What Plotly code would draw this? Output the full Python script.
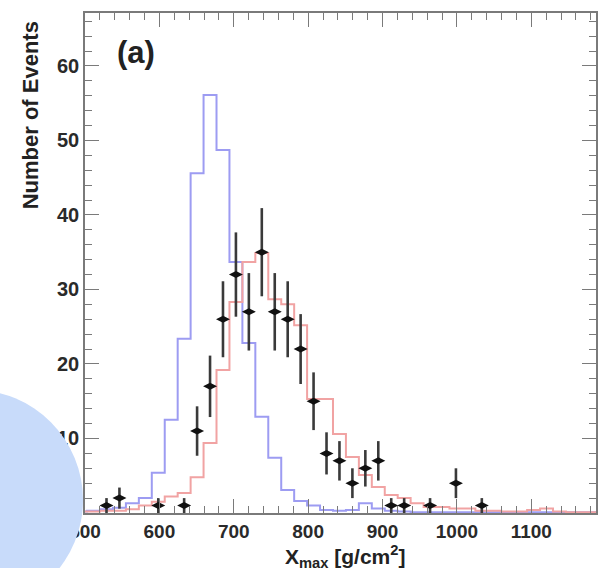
import numpy as np
import plotly.graph_objects as go

# ---- data ----
bin_center0 = 598.5      # centre of the bin containing 600 g/cm2
bin_width = 17.4
bin_index = list(range(-6, 35))

blue_vals = [0.2, 0.3, 0.5, 0.7, 1.3, 2.0, 5.4, 12.5, 23.4, 45.6, 56.1, 48.7, 33.7,
             22.8, 12.9, 7.4, 3.1, 1.6, 1.0, 0.4, 0.3, 0.4, 1.3, 0.6, 0.3, 0.2, 0.1,
             0.1, 0.1, 0.1, 0.1, 0.1, 0.1, 0.1, 0.1, 0.1, 0.1, 0.1, 0.1, 0.1, 0.1]
red_vals = [0.2, 0.2, 0.3, 0.3, 0.5, 1.0, 1.5, 2.2, 2.7, 4.8, 9.4, 19.2, 28.3, 33.7,
            34.9, 28.7, 28.0, 25.2, 15.3, 15.3, 10.6, 7.5, 5.1, 3.5, 2.4, 2.0, 1.3,
            0.8, 0.8, 0.6, 0.6, 0.3, 0.3, 0.2, 0.2, 0.4, 0.6, 0.2, 0.1, 0.1, 0.1]

data_x = [528.9, 546.3, 598.5, 633.3, 650.7, 668.1, 685.5, 702.9, 720.3, 737.7,
          755.1, 772.5, 789.9, 807.3, 824.7, 842.1, 859.5, 876.9, 894.3, 911.7,
          929.1, 963.9, 998.7, 1033.5]
data_y = [1, 2, 1, 1, 11, 17, 26, 32, 27, 35, 27, 26, 22, 15, 8, 7, 4, 6, 7,
          1, 1, 1, 4, 1]

x_ticks = [500, 600, 700, 800, 900, 1000, 1100]
y_ticks = [10, 20, 30, 40, 50, 60]   # the "0" label is hidden under the disc

# ---- build step outlines ----
lo_edges = [bin_center0 + bin_width * i - bin_width / 2 for i in bin_index]
step_x = lo_edges + [lo_edges[-1] + bin_width]


def steps(vals):
    return list(vals) + [vals[-1]]


fig = go.Figure()
fig.add_trace(go.Scatter(x=step_x, y=steps(blue_vals), mode="lines",
                         line=dict(color="#9d9cf2", width=2, shape="hv"),
                         hoverinfo="skip", showlegend=False))
fig.add_trace(go.Scatter(x=step_x, y=steps(red_vals), mode="lines",
                         line=dict(color="#f1a3a3", width=2, shape="hv"),
                         hoverinfo="skip", showlegend=False))
fig.add_trace(go.Scatter(x=data_x, y=data_y, mode="markers",
                         marker=dict(symbol="diamond-wide", size=10, color="#111"),
                         error_y=dict(type="data", array=list(np.sqrt(data_y)),
                                      color="#3a3a3a", thickness=2.6, width=0),
                         showlegend=False))

axis_col = "#7a7a7a"
font_fam = "Liberation Sans, Arial, sans-serif"

fig.update_layout(
    width=598, height=568,
    margin=dict(l=85, r=0, t=13, b=55),
    paper_bgcolor="white", plot_bgcolor="white",
    xaxis=dict(range=[500, 1187], tickvals=x_ticks, ticktext=[str(v) for v in x_ticks],
               ticks="inside", ticklen=14, tickwidth=1.4, tickcolor=axis_col,
               minor=dict(dtick=20, tick0=500, ticks="inside", ticklen=7,
                          tickwidth=1.2, tickcolor=axis_col),
               showline=True, linecolor=axis_col, linewidth=1.6, mirror="ticks",
               showgrid=False, zeroline=False,
               tickfont=dict(family=font_fam, size=19, color="#2a2a2a", weight="bold")),
    yaxis=dict(range=[0, 67.1], tickvals=y_ticks, ticktext=[str(v) for v in y_ticks],
               ticks="inside", ticklen=14, tickwidth=1.4, tickcolor=axis_col,
               minor=dict(dtick=2, tick0=0, ticks="inside", ticklen=7,
                          tickwidth=1.2, tickcolor=axis_col),
               showline=True, linecolor=axis_col, linewidth=1.6, mirror="ticks",
               showgrid=False, zeroline=False,
               tickfont=dict(family=font_fam, size=20, color="#2a2a2a", weight="bold")),
    annotations=[
        dict(text="<b>(a)</b>", xref="paper", yref="paper", x=0.0994, y=0.92,
             xanchor="center", yanchor="middle", showarrow=False,
             font=dict(family=font_fam, size=31, color="#222")),
        dict(text="<b>Number of Events</b>", xref="paper", yref="paper",
             x=-0.105, y=0.796, xanchor="center", yanchor="middle", textangle=-90,
             showarrow=False, font=dict(family=font_fam, size=22, color="#222")),
        dict(text="<b>X<sub>max</sub> [g/cm<sup>2</sup>]</b>", xref="paper", yref="paper",
             x=0.509, y=-0.087, xanchor="center", yanchor="middle", showarrow=False,
             font=dict(family=font_fam, size=21, color="#222")),
    ],
    shapes=[
        dict(type="circle", xref="paper", yref="paper", x0=-0.4327, x1=-0.0039,
             y0=-0.194, y1=0.246, fillcolor="#c8dbfa", line=dict(width=0),
             layer="above"),
    ],
)

fig.write_html("out.html")
